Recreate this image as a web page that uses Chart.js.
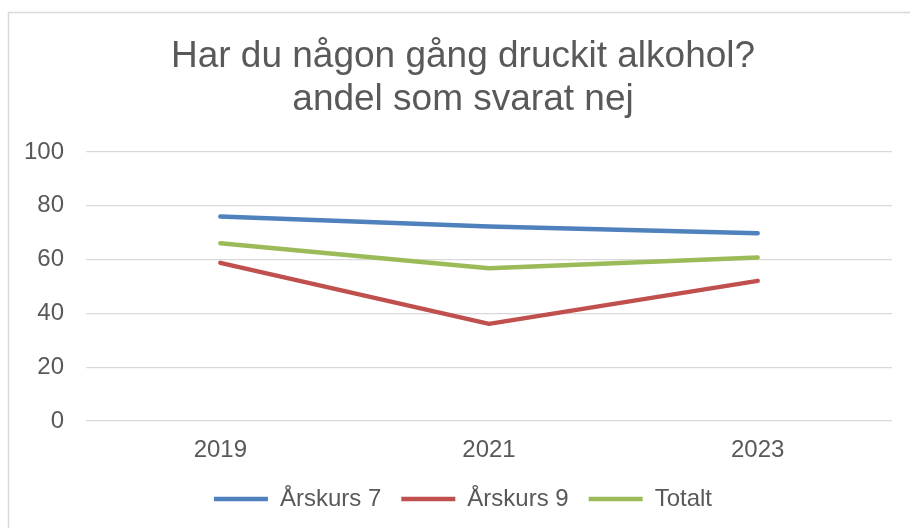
<!DOCTYPE html>
<html>
<head>
<meta charset="utf-8">
<script src="https://cdn.jsdelivr.net/npm/chart.js@4/dist/chart.umd.min.js"></script>
<style>
  body { margin: 0; background: #fff; }
  canvas { display: block; }
</style>
</head>
<body>
<canvas id="myChart" width="910" height="528"></canvas>
<script>
// data
const years = ['2019', '2021', '2023'];
const arskurs7 = [76.0, 72.3, 69.8];
const arskurs9 = [58.8, 36.1, 52.1];
const totalt = [66.1, 56.8, 60.8];
const titleLines = ['Har du någon gång druckit alkohol?', 'andel som svarat nej'];

const grey = '#595959';
const font = 'Liberation Sans, Arial, sans-serif';

// light frame round the chart, like the office chart box
const frame = {
    id: 'frame',
    beforeDraw(chart) {
        const ctx = chart.ctx;
        ctx.save();
        ctx.strokeStyle = '#d9d9d9';
        ctx.lineWidth = 1.5;
        ctx.strokeRect(8.5, 12.5, 920, 540);
        ctx.restore();
    },
    // the original box is wider than the crop, so title and legend sit a bit right
    afterLayout(chart) {
        if (chart.titleBlock) chart.titleBlock.left = 34;
        if (chart.legend) chart.legend.left = 34;
    }
};

function serie(label, values, color) {
    return {
        label: label,
        data: values,
        borderColor: color,
        backgroundColor: color,
        borderWidth: 4.5,
        borderCapStyle: 'round',
        borderJoinStyle: 'round',
        pointRadius: 0,
        pointHoverRadius: 0,
        pointStyle: 'line',
        tension: 0
    };
}

function graficar(ctx) {
    new Chart(ctx, {
        type: 'line',
        data: {
            labels: years,
            datasets: [
                serie('Årskurs 7', arskurs7, '#4f81bd'),
                serie('Årskurs 9', arskurs9, '#c0504d'),
                serie('Totalt', totalt, '#9bbb59')
            ]
        },
        options: {
            responsive: false,
            animation: false,
            layout: { padding: { left: 10, right: 18, top: 0, bottom: 7 } },
            plugins: {
                title: {
                    display: true,
                    text: titleLines,
                    color: grey,
                    font: { family: font, size: 37, weight: 'normal', lineHeight: 43 / 37 },
                    padding: { top: 35.5, bottom: 30.5 }
                },
                legend: {
                    position: 'bottom',
                    labels: {
                        usePointStyle: true,
                        pointStyleWidth: 54,
                        boxHeight: 4,
                        padding: 20,
                        color: grey,
                        font: { family: font, size: 24 }
                    }
                },
                tooltip: { enabled: false }
            },
            scales: {
                x: {
                    offset: true,
                    grid: { display: false, drawTicks: false },
                    border: { display: false },
                    ticks: { color: grey, padding: 15, font: { family: font, size: 24 } },
                    afterFit: s => { s.height = 46; }
                },
                y: {
                    min: 0,
                    max: 100,
                    grid: { color: '#d9d9d9', lineWidth: 1.3, drawTicks: false },
                    border: { display: false },
                    ticks: { stepSize: 20, color: grey, padding: 22, font: { family: font, size: 24 } },
                    afterFit: s => { s.width = 76; }
                }
            }
        },
        plugins: [frame]
    });
}

graficar(document.getElementById('myChart').getContext('2d'));
</script>
</body>
</html>
